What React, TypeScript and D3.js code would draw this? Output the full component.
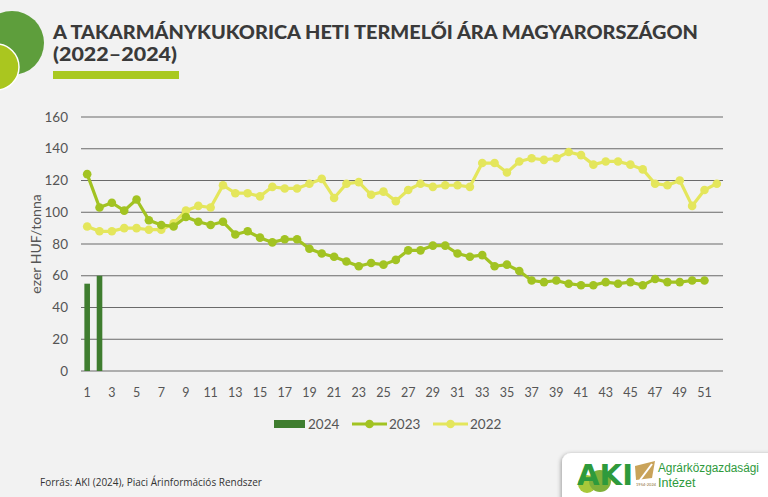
import * as d3 from "d3";

const weeks = d3.range(1, 53);
const tickWeeks = d3.range(1, 52, 2);
const yTicks = [0, 20, 40, 60, 80, 100, 120, 140, 160];

const values2024 = [55, 60];

const values2023 = [
  124, 103, 106, 101, 108, 95, 92, 91, 97, 94, 92, 94, 86, 88, 84, 81, 83,
  83, 77, 74, 72, 69, 66, 68, 67, 70, 76, 76, 79, 79, 74, 72, 73, 66, 67, 63,
  57, 56, 57, 55, 54, 54, 56, 55, 56, 54, 58, 56, 56, 57, 57,
];

const values2022 = [
  91, 88, 88, 90, 90, 89, 89, 93, 101, 104, 103, 117, 112, 112, 110, 116,
  115, 115, 118, 121, 109, 118, 119, 111, 113, 107, 114, 118, 116, 117, 117,
  116, 131, 131, 125, 132, 134, 133, 134, 138, 136, 130, 132, 132, 130, 127,
  118, 117, 120, 104, 114, 118,
];

const C2024 = "#3f7d2f";
const C2023 = "#a2c322";
const C2022 = "#e4e65c";
const GRID = "#6a6a6a";
const TEXT = "#555555";
const FONT = "Lato, 'Open Sans', sans-serif";

const W = 768;
const H = 497;

const App = () => {
  const x = d3.scaleBand<number>().domain(weeks).range([81, 723]);
  const y = d3.scaleLinear().domain([0, 160]).range([371, 117]);
  const cx = (w: number) => (x(w) ?? 0) + x.bandwidth() / 2;

  const line = d3
    .line<number>()
    .x((_, i) => cx(i + 1))
    .y((d) => y(d));

  return (
    <div style={{ position: "fixed", left: 0, top: 0, width: W, height: H }}>
      <svg width={W} height={H} style={{ display: "block", background: "#f2f2f2" }}>
        <defs>
          <filter id="sh" x="-10%" y="-30%" width="130%" height="160%">
            <feDropShadow dx="-1" dy="1" stdDeviation="2" floodColor="#000" floodOpacity="0.35" />
          </filter>
          <clipPath id="pg">
            <rect x={0} y={0} width={W} height={H} />
          </clipPath>
        </defs>

        {/* decoration */}
        <g clipPath="url(#pg)">
          <circle cx={12} cy={43} r={32} fill="#5e9e3c" />
          <circle cx={-4} cy={67} r={23} fill="#aac61f" stroke="#ffffff" strokeWidth={1.5} />
        </g>

        {/* title */}
        <text x={53} y={39} fontFamily={FONT} fontWeight={900} fontSize={19} fill="#3a3a3a"
          textLength={645} lengthAdjust="spacingAndGlyphs">
          A TAKARMÁNYKUKORICA HETI TERMELŐI ÁRA MAGYARORSZÁGON
        </text>
        <text x={53} y={61} fontFamily={FONT} fontWeight={900} fontSize={19} fill="#3a3a3a"
          textLength={124} lengthAdjust="spacingAndGlyphs">
          (2022–2024)
        </text>
        <rect x={53} y={71} width={126} height={8} fill="#a9c920" />

        {/* grid + y axis */}
        {yTicks.map((t) => (
          <g key={t}>
            <line x1={81} x2={723} y1={y(t)} y2={y(t)} stroke={GRID} strokeWidth={1} />
            <text x={68} y={y(t)} dy="0.35em" textAnchor="end" fontFamily={FONT} fontSize={13.5} fill={TEXT}>
              {t}
            </text>
          </g>
        ))}
        <text transform={`translate(36,${y(80)}) rotate(-90)`} textAnchor="middle" dy="0.35em"
          fontFamily={FONT} fontSize={14} fill={TEXT}>
          ezer HUF/tonna
        </text>

        {/* x labels */}
        {tickWeeks.map((w) => (
          <text key={w} x={cx(w)} y={397} textAnchor="middle" fontFamily={FONT} fontSize={12.5} fill={TEXT}>
            {w}
          </text>
        ))}

        {/* 2024 bars */}
        {values2024.map((v, i) => (
          <rect key={i} x={cx(i + 1) - 2.8} y={y(v)} width={5.6} height={y(0) - y(v)} fill={C2024} />
        ))}

        {/* 2022 */}
        <path d={line(values2022) ?? ""} fill="none" stroke={C2022} strokeWidth={3.2} strokeLinejoin="round" />
        {values2022.map((v, i) => (
          <circle key={i} cx={cx(i + 1)} cy={y(v)} r={4.3} fill={C2022} />
        ))}

        {/* 2023 */}
        <path d={line(values2023) ?? ""} fill="none" stroke={C2023} strokeWidth={3.2} strokeLinejoin="round" />
        {values2023.map((v, i) => (
          <circle key={i} cx={cx(i + 1)} cy={y(v)} r={4.3} fill={C2023} />
        ))}

        {/* legend */}
        <g fontFamily={FONT} fontSize={13.5} fill={TEXT}>
          <rect x={274} y={420} width={31} height={8} fill={C2024} />
          <text x={308} y={424} dy="0.35em">2024</text>
          <line x1={352} x2={387} y1={424} y2={424} stroke={C2023} strokeWidth={3.2} />
          <circle cx={369.5} cy={424} r={4.3} fill={C2023} />
          <text x={389} y={424} dy="0.35em">2023</text>
          <line x1={433} x2={468} y1={424} y2={424} stroke={C2022} strokeWidth={3.2} />
          <circle cx={450.5} cy={424} r={4.3} fill={C2022} />
          <text x={470} y={424} dy="0.35em">2022</text>
        </g>

        {/* footer */}
        <text x={40} y={486} fontFamily="'Liberation Sans Narrow', 'Open Sans', sans-serif" fontSize={10} fill="#333333">
          Forrás: AKI (2024), Piaci Árinformációs Rendszer
        </text>

        {/* logo */}
        <g>
          <rect x={562} y={453} width={220} height={60} rx={9} fill="#ffffff" filter="url(#sh)" />
          <circle cx={587} cy={484} r={9} fill="#a8c83a" />
          <circle cx={600} cy={481} r={11} fill="#7fb03a" />
          <text x={577} y={485} fontFamily="'DejaVu Sans', sans-serif" fontWeight={900} fontSize={28}
            fill="#2e9a3c" textLength={56} lengthAdjust="spacingAndGlyphs">
            AKI
          </text>
          <polygon points="635,466 655,461 652,478 636,480" fill="#c9a35a" />
          <line x1={640} x2={652} y1={480} y2={464} stroke="#ffffff" strokeWidth={2} />
          <text x={636} y={486} fontFamily={FONT} fontSize={4} fill="#8a6d2d">1954-2024</text>
          <text x={658} y={472} fontFamily="'Liberation Sans', Arial, sans-serif" fontSize={12}
            fill="#2e9a3c" textLength={101} lengthAdjust="spacingAndGlyphs">
            Agrárközgazdasági
          </text>
          <text x={658} y={487} fontFamily="'Liberation Sans', Arial, sans-serif" fontSize={12.5}
            fill="#2e9a3c">
            Intézet
          </text>
        </g>
      </svg>
    </div>
  );
};

export default App;
